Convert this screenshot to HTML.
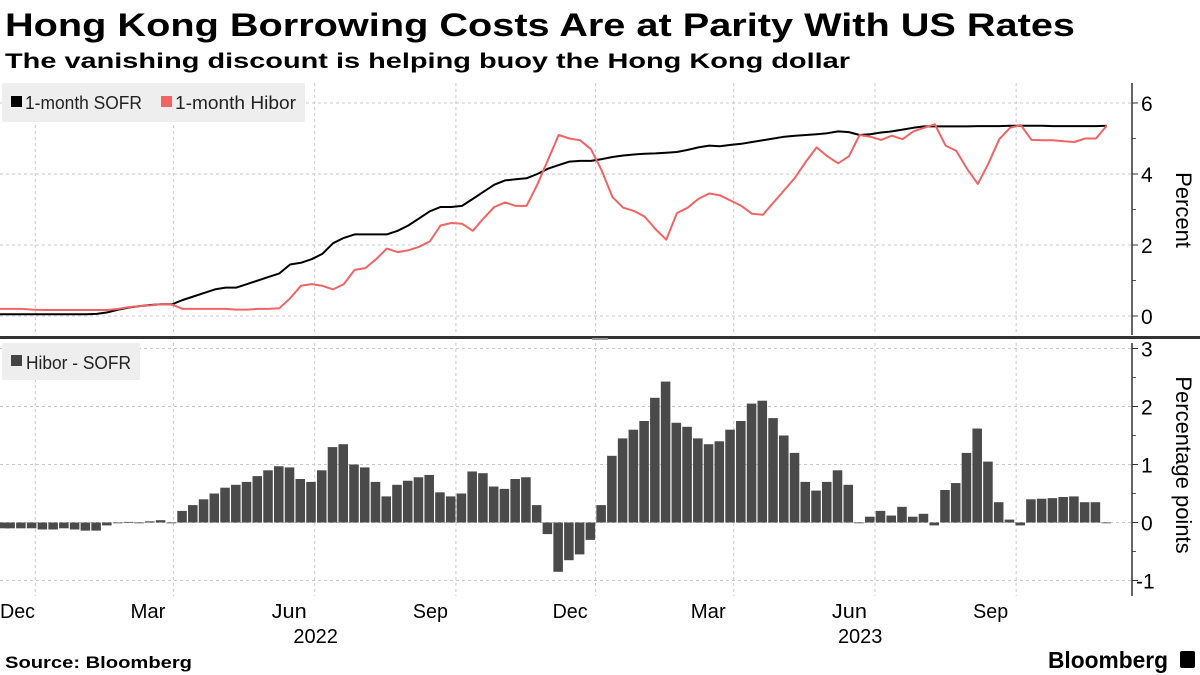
<!DOCTYPE html>
<html><head><meta charset="utf-8"><style>
body{margin:0;background:#fff;width:1200px;height:675px;overflow:hidden}
svg{display:block;font-family:"Liberation Sans",sans-serif}
</style></head><body>
<svg id="c" width="1200" height="675" viewBox="0 0 1200 675">
<text x="5" y="36" font-size="32" font-weight="bold" fill="#000" textLength="1070" lengthAdjust="spacingAndGlyphs">Hong Kong Borrowing Costs Are at Parity With US Rates</text>
<text x="5" y="68" font-size="21" font-weight="bold" fill="#000" textLength="845" lengthAdjust="spacingAndGlyphs">The vanishing discount is helping buoy the Hong Kong dollar</text>
<g id="grid"></g>
<g id="marks"></g>
<rect x="0" y="336" width="1200" height="3" fill="#333"/>
<rect x="592" y="338" width="16" height="2" fill="#999"/>
<g id="axes"></g>
<g>
<rect x="2" y="83" width="303" height="39" fill="#eeeeee" rx="2"/>
<rect x="11" y="96" width="11" height="11" fill="#000"/>
<text x="25" y="109" font-size="18" fill="#222" textLength="117" lengthAdjust="spacingAndGlyphs">1-month SOFR</text>
<rect x="161" y="96" width="11" height="11" fill="#f06464"/>
<text x="175" y="109" font-size="18" fill="#222" textLength="121" lengthAdjust="spacingAndGlyphs">1-month Hibor</text>
</g>
<g>
<rect x="2" y="343" width="138" height="37" fill="#eeeeee" rx="2"/>
<rect x="11" y="355" width="11" height="11" fill="#444"/>
<text x="26" y="369" font-size="18" fill="#222" textLength="105" lengthAdjust="spacingAndGlyphs">Hibor - SOFR</text>
</g>
<text transform="translate(1176,210) rotate(90)" text-anchor="middle" font-size="22" fill="#000">Percent</text>
<text transform="translate(1176,465) rotate(90)" text-anchor="middle" font-size="22" fill="#000">Percentage points</text>
<text x="5" y="668" font-size="17" font-weight="bold" fill="#000" textLength="187" lengthAdjust="spacingAndGlyphs">Source: Bloomberg</text>
<text x="1048" y="668" font-size="23" font-weight="bold" fill="#000" textLength="120" lengthAdjust="spacingAndGlyphs">Bloomberg</text>
<rect x="1180" y="651" width="15" height="17" rx="2" fill="#000"/>
</svg>
<script>
const startDate = '2021-11-08';
const sofr = [.05,.05,.05,.05,.05,.05,.05,.05,.05,.06,.1,.18,.24,.28,.31,.33,.33,.45,.55,.65,.75,.8,.8,.9,1.0,1.1,1.2,1.45,1.5,1.6,1.75,2.05,2.2,2.3,2.3,2.3,2.3,2.4,2.55,2.75,2.95,3.07,3.07,3.1,3.3,3.5,3.7,3.82,3.85,3.88,4.0,4.15,4.25,4.35,4.37,4.37,4.42,4.48,4.52,4.55,4.57,4.58,4.6,4.62,4.68,4.75,4.8,4.78,4.82,4.85,4.9,4.95,5.0,5.05,5.08,5.1,5.12,5.15,5.2,5.18,5.1,5.12,5.17,5.2,5.25,5.3,5.34,5.34,5.34,5.34,5.34,5.35,5.35,5.35,5.36,5.36,5.36,5.36,5.35,5.35,5.35,5.35,5.35,5.36];
const hibor = [.2,.2,.2,.18,.17,.17,.17,.17,.17,.17,.17,.2,.25,.28,.3,.33,.32,.2,.2,.2,.2,.2,.18,.18,.2,.2,.22,.5,.85,.9,.85,.75,.9,1.3,1.35,1.6,1.9,1.8,1.85,1.95,2.1,2.55,2.62,2.6,2.4,2.75,3.07,3.2,3.1,3.1,3.7,4.4,5.1,5.0,4.95,4.7,4.1,3.35,3.05,2.96,2.8,2.45,2.15,2.9,3.05,3.3,3.45,3.4,3.25,3.1,2.88,2.85,3.2,3.55,3.9,4.35,4.75,4.5,4.3,4.5,5.1,5.05,4.96,5.08,4.98,5.2,5.3,5.4,4.8,4.65,4.15,3.72,4.3,4.98,5.3,5.38,4.96,4.95,4.95,4.92,4.9,5.0,5.0,5.36];
const spread = [-.1,-.1,-.1,-.1,-.12,-.12,-.1,-.12,-.14,-.14,-.05,0,.01,0,.02,.04,0,.2,.3,.4,.5,.6,.65,.7,.8,.9,.97,.95,.75,.7,.9,1.3,1.35,1.0,.95,.7,.45,.65,.72,.78,.82,.52,.45,.5,.88,.85,.62,.58,.75,.78,.3,-.2,-.85,-.65,-.55,-.3,.3,1.15,1.45,1.6,1.75,2.15,2.43,1.72,1.65,1.45,1.35,1.4,1.6,1.75,2.05,2.1,1.8,1.5,1.2,.7,.55,.7,.9,.65,0,.1,.2,.12,.27,.1,.15,-.05,.56,.68,1.2,1.62,1.05,.35,.05,-.05,.4,.41,.42,.44,.45,.35,.35,0];
const topTicks = [0,2,4,6];
const bottomTicks = [-1,0,1,2,3];
const monthTicks = ['2021-12-01','2022-03-01','2022-06-01','2022-09-01','2022-12-01','2023-03-01','2023-06-01','2023-09-01'];
const monthLabels = ['Dec','Mar','Jun','Sep','Dec','Mar','Jun','Sep'];
const yearLabels = ['2022','2023'];

const NS='http://www.w3.org/2000/svg';
const DAY=86400000, t0=Date.parse(startDate), PXD=1.535;
function xDate(s){return (Date.parse(s)-t0)/DAY*PXD;}
function xWeek(i){return i*7*PXD;}
function yTop(v){return 316-v*35.5;}
function yBot(v){return 522.5-v*58;}
function el(tag,attrs,parent){const e=document.createElementNS(NS,tag);for(const k in attrs)e.setAttribute(k,attrs[k]);parent.appendChild(e);return e;}
const grid=document.getElementById('grid'),marks=document.getElementById('marks'),axes=document.getElementById('axes');
const AX=1132;
topTicks.forEach(v=>{const l=el('line',{x1:0,x2:AX,y1:yTop(v),y2:yTop(v),stroke:'#c8c8c8','stroke-dasharray':'3,3'},grid);


const t=el('text',{x:AX+9,y:yTop(v)+8,'font-size':21,fill:'#000'},axes);t.textContent=v;


el('line',{x1:AX,x2:AX+6,y1:yTop(v),y2:yTop(v),stroke:'#333'},axes);});
[1,3,5].forEach(v=>el('line',{x1:AX,x2:AX+4,y1:yTop(v),y2:yTop(v),stroke:'#555'},axes));
bottomTicks.forEach(v=>{const l=el('line',{x1:0,x2:AX,y1:yBot(v),y2:yBot(v),stroke:'#c8c8c8','stroke-dasharray':'3,3'},grid);


const t=el('text',{x:AX+(v<0?4:9),y:yBot(v)+8,'font-size':21,fill:'#000'},axes);t.textContent=v;


el('line',{x1:AX,x2:AX+6,y1:yBot(v),y2:yBot(v),stroke:'#333'},axes);});
[-.5,.5,1.5,2.5].forEach(v=>el('line',{x1:AX,x2:AX+4,y1:yBot(v),y2:yBot(v),stroke:'#555'},axes));
monthTicks.forEach((d,i)=>{const x=xDate(d);
[[83,335],[343,596]].forEach(r=>{const l=el('line',{x1:x,x2:x,y1:r[0],y2:r[1],stroke:'#c8c8c8','stroke-dasharray':'3,3'},grid);

});
const t=el('text',{x:Math.max(0,x-43),y:618,'font-size':20,fill:'#000',textLength:35,lengthAdjust:'spacingAndGlyphs'},axes);t.textContent=monthLabels[i];

});
[[yearLabels[0],xDate(monthTicks[2])+1,'middle'],[yearLabels[1],xDate(monthTicks[6])-37,'start']].forEach(a=>{
const t=el('text',{x:a[1],y:643,'text-anchor':a[2],'font-size':20,fill:'#000'},axes);t.textContent=a[0];

});
el('line',{x1:AX,x2:AX,y1:83,y2:335,stroke:'#333','stroke-width':1.5},axes);
el('line',{x1:AX,x2:AX,y1:343,y2:596,stroke:'#333','stroke-width':1.5},axes);
const bw=7*PXD;
spread.forEach((v,i)=>{const x=xWeek(i)-bw/2;const y0=yBot(0),y1=yBot(v);
const r=el('rect',{x:Math.max(0,x),y:Math.min(y0,y1),width:bw-1.2,height:Math.max(0.8,Math.abs(y1-y0)),fill:'#4a4a4a'},marks);

});
function path(arr,color,name){const d=arr.map((v,i)=>(i?'L':'M')+xWeek(i).toFixed(1)+','+yTop(v).toFixed(1)).join('');
const p=el('path',{d:d,fill:'none',stroke:color,'stroke-width':2,'stroke-linejoin':'round'},marks);

}
path(sofr,'#000','sofr-line');
path(hibor,'#f06464','hibor-line');
</script>
</body></html>
